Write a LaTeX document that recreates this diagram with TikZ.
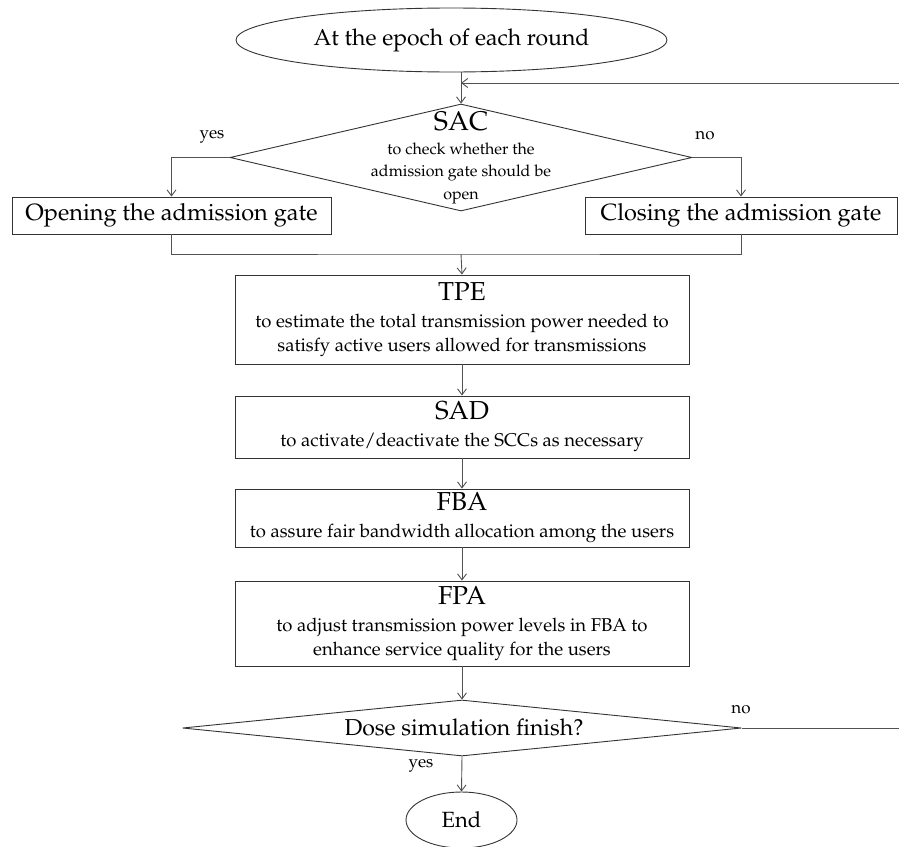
\documentclass[tikz,border=0pt]{standalone}
\usepackage[T1]{fontenc}
\usepackage{mathpazo}
\usetikzlibrary{shapes.geometric,arrows.meta}
\newcommand{\fsz}[1]{\fontsize{#1}{#1}\selectfont}
\begin{document}
\begin{tikzpicture}[x=1pt,y=-1pt,
  line/.style={draw=black!68, line width=0.9pt},
  arr/.style={line, -{Straight Barb[length=6pt,width=9pt]}},
  box/.style={draw=black!80, line width=0.9pt, rectangle, inner sep=0pt, align=center},
  ellip/.style={draw=black!80, line width=0.9pt, ellipse, inner sep=0pt},
  dia/.style={draw=black!80, line width=0.9pt, diamond, inner sep=0pt},
  lbl/.style={font=\fsz{17}, inner sep=0pt},
  sub/.style={font=\fontsize{18.5}{24}\selectfont}]
\useasboundingbox (0,0) rectangle (899,846);

% start
\node[ellip, minimum width=431, minimum height=64, font=\fsz{23}] (start) at (451.5,40) {At the epoch of each round};

% SAC decision
\node[dia, minimum width=462, minimum height=107] (sac) at (461,157.5) {};
\node[align=center, inner sep=0pt, font=\fontsize{16}{22.5}\selectfont] (sact) at (461,158) {{\fsz{27}SAC}\\[1pt]to check whether the\\admission gate should be\\open};
\node[lbl] (yes1) at (212,137) {yes};
\node[lbl] (no1) at (705,136) {no};

% gate boxes
\node[box, minimum width=319, minimum height=37, font=\fsz{23.5}] (open) at (171.5,215.5) {Opening the admission gate};
\node[box, minimum width=312, minimum height=37, font=\fsz{23.5}] (close) at (741,215.5) {Closing the admission gate};

% process boxes
\node[box, sub, minimum width=454, minimum height=89] (tpe) at (462,319.5) {{\fsz{26}TPE}\\[3pt]to estimate the total transmission power needed to\\satisfy active users allowed for transmissions};
\node[box, sub, minimum width=454, minimum height=62] (sad) at (462,427) {{\fsz{26}SAD}\\[3pt]to activate/deactivate the SCCs as necessary};
\node[box, sub, minimum width=454, minimum height=58] (fba) at (462,518) {{\fsz{26}FBA}\\[3pt]to assure fair bandwidth allocation among the users};
\node[box, sub, minimum width=454, minimum height=85] (fpa) at (462,623.5) {{\fsz{26}FPA}\\[3pt]to adjust transmission power levels in FBA to\\enhance service quality for the users};

% final decision
\node[dia, minimum width=559, minimum height=56] (dec) at (462,728) {};
\node[font=\fsz{23}, inner sep=0pt] (dect) at (464,727) {Dose simulation finish?};
\node[lbl] (no2) at (741,710) {no};
\node[lbl] (yes2) at (421,766) {yes};

% end
\node[ellip, minimum width=111, minimum height=56, font=\fsz{22}] (end) at (461.5,820) {End};

% coordinates
\coordinate (rt) at (906,83);
\coordinate (j) at (sac.north |- rt);
\coordinate (m) at (461,254);

% connectors
\draw[arr] (sac.north |- start.south) -- (sac.north);
\draw[arr] (dec.east) -| (rt) -- (j);
\draw[arr] (sac.west) -| (open.north);
\draw[arr] (sac.east) -| (close.north);
\draw[line] (open.south) |- (m) -| (close.south);
\draw[arr] (m) -- (tpe.north);
\draw[arr] (tpe) -- (sad);
\draw[arr] (sad) -- (fba);
\draw[arr] (fba) -- (fpa);
\draw[arr] (fpa) -- (dec.north);
\draw[arr] (dec.south) -- (end.north);
\end{tikzpicture}
\end{document}
